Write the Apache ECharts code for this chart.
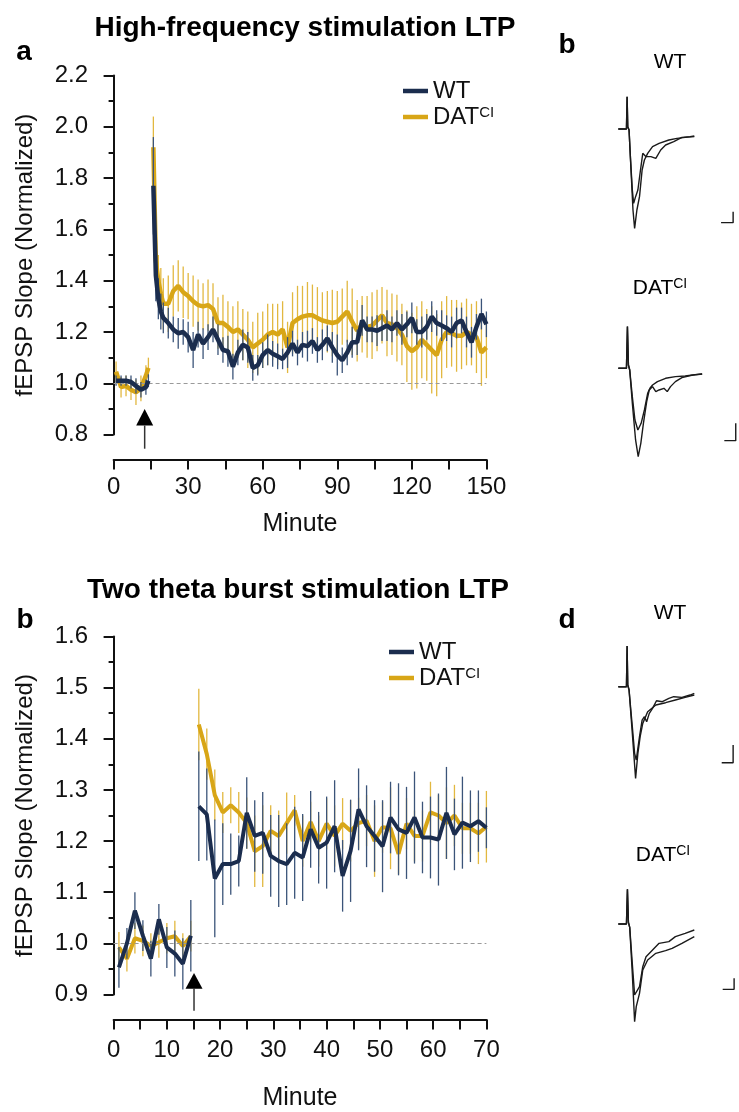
<!DOCTYPE html>
<html>
<head>
<meta charset="utf-8">
<script src="https://cdn.jsdelivr.net/npm/echarts@6/dist/echarts.min.js"></script>
<style>
  html, body { margin: 0; padding: 0; background: #fff; }
  #chart { width: 739px; height: 1112px; }
</style>
</head>
<body>
<div id="chart"></div>
<script>
// ---- data: high-frequency stimulation (top panel) ----
const hfsMinutes = [1,3,5,7,9,11,13,14,15,16,17,18,19,20,22,24,26,28,30,32,34,36,38,40,42,44,46,48,50,52,54,56,58,60,62,64,66,68,70,72,74,76,78,80,82,84,86,88,90,92,94,96,98,100,102,104,106,108,110,112,114,116,118,120,122,124,126,128,130,132,134,136,138,140,142,144,146,148,150];
const hfsWT = [1.01,1.01,1.01,1.005,0.99,0.975,0.985,1.01, null,
  1.77,1.42,1.33,1.28,1.255,
  1.235,1.21,1.195,1.20,1.18, 1.13,1.19,1.155,1.18,1.21,
  1.17,1.13,1.125,1.065,1.12, 1.15,1.14,1.06,1.07,1.11,
  1.13,1.115,1.105,1.095,1.12, 1.155,1.12,1.15,1.145,1.165,
  1.13,1.15,1.175,1.14,1.11, 1.09,1.12,1.16,1.16,1.245,
  1.21,1.21,1.205,1.215,1.225, 1.21,1.235,1.21,1.23,1.255,
  1.2,1.2,1.22,1.26,1.235, 1.225,1.215,1.2,1.235,1.245,
  1.2,1.16,1.22,1.27,1.23];
const hfsWTErr = [0.02,0.02,0.02,0.025,0.03,0.03,0.03,0.025, null,
  0.19,0.1,0.08,0.07,0.06,
  0.06,0.05,0.06,0.05,0.06, 0.07,0.05,0.06,0.05,0.05,
  0.06,0.05,0.06,0.05,0.05, 0.06,0.06,0.05,0.04,0.05,
  0.06,0.05,0.05,0.04,0.06, 0.05,0.05,0.05,0.06,0.05,
  0.05,0.06,0.05,0.06,0.08, 0.05,0.05,0.06,0.05,0.06,
  0.05,0.05,0.06,0.05,0.06, 0.05,0.05,0.06,0.05,0.06,
  0.05,0.06,0.05,0.06,0.05, 0.06,0.05,0.06,0.06,0.05,
  0.06,0.06,0.05,0.06,0.05];
const hfsDAT = [1.045,0.985,0.99,0.975,0.965,0.98,1.03,1.06, null,
  1.92,1.48,1.40,1.35,1.31,
  1.31,1.36,1.38,1.355,1.34, 1.32,1.305,1.30,1.305,1.29,
  1.235,1.235,1.22,1.20,1.21, 1.19,1.17,1.14,1.155,1.17,
  1.19,1.2,1.19,1.21,1.14, 1.235,1.25,1.26,1.265,1.265,
  1.255,1.245,1.24,1.235,1.24, 1.26,1.28,1.24,1.205,1.23,
  1.22,1.225,1.245,1.265,1.235, 1.23,1.215,1.19,1.145,1.125,
  1.14,1.17,1.15,1.13,1.11, 1.17,1.2,1.195,1.185,1.185,
  1.2,1.19,1.18,1.12,1.14];
const hfsDATErr = [0.04,0.04,0.04,0.04,0.05,0.05,0.04,0.04, null,
  0.12,0.12,0.1,0.1,0.1,
  0.11,0.1,0.1,0.1,0.09, 0.1,0.1,0.09,0.1,0.1,
  0.1,0.11,0.1,0.1,0.11, 0.1,0.11,0.1,0.12,0.11,
  0.12,0.11,0.12,0.11,0.1, 0.12,0.13,0.12,0.13,0.12,
  0.12,0.11,0.12,0.13,0.12, 0.11,0.12,0.13,0.12,0.11,
  0.12,0.13,0.12,0.11,0.13, 0.12,0.13,0.12,0.14,0.15,
  0.16,0.15,0.14,0.17,0.16, 0.15,0.14,0.13,0.14,0.13,
  0.13,0.12,0.14,0.13,0.12];

// ---- data: two theta burst stimulation (bottom panel) ----
const tbsMinutes = [1,2.5,4,5.5,7,8.5,10,11.5,13,14.5,15.25,16,17.5,19,20.5,22,23.5,25,26.5,28,29.5,31,32.5,34,35.5,37,38.5,40,41.5,43,44.5,46,47.5,49,50.5,52,53.5,55,56.5,58,59.5,61,62.5,64,65.5,67,68.5,70];
const tbsWT = [0.953,1.0,1.064,1.015,0.97,1.047,0.992,0.98,0.96,1.015, null,
  1.268,1.252,1.127,1.155,1.155,1.161,1.255,1.21,1.216,1.171,
  1.161,1.155,1.177,1.168,1.223,1.187,1.197,1.229,1.132,1.181,
  1.262,1.229,1.21,1.19,1.246,1.223,1.216,1.246,1.207,1.207,
  1.203,1.255,1.213,1.236,1.229,1.239,1.226];
const tbsWTErr = [0.04,0.03,0.036,0.03,0.035,0.03,0.04,0.045,0.05,0.07, null,
  0.107,0.09,0.115,0.08,0.06,0.05,0.07,0.07,0.08,0.08,
  0.09,0.08,0.09,0.085,0.075,0.07,0.09,0.09,0.07,0.1,
  0.08,0.08,0.07,0.09,0.07,0.09,0.09,0.09,0.07,0.08,
  0.09,0.09,0.07,0.09,0.07,0.06,0.04];
const tbsDAT = [0.992,0.97,1.01,1.005,0.995,1.002,1.01,1.014,0.995,1.014, null,
  1.428,1.37,1.29,1.256,1.27,1.256,1.235,1.18,1.19,1.22,
  1.21,1.235,1.26,1.20,1.237,1.20,1.234,1.21,1.234,1.22,
  1.235,1.24,1.20,1.227,1.225,1.175,1.234,1.21,1.21,1.256,
  1.25,1.235,1.25,1.225,1.225,1.215,1.228];
const tbsDATErr = [0.03,0.025,0.03,0.03,0.025,0.03,0.03,0.03,0.025,0.03, null,
  0.07,0.05,0.05,0.04,0.035,0.04,0.05,0.07,0.08,0.05,
  0.05,0.06,0.03,0.05,0.04,0.05,0.05,0.06,0.05,0.06,
  0.05,0.05,0.07,0.05,0.08,0.04,0.05,0.05,0.05,0.06,
  0.04,0.07,0.06,0.05,0.05,0.06,0.07];

// stimulation arrows (minute, y of tip / head base / tail)
const arrowHfs = { minute: 12.5, tip: 0.9, base: 0.835, tail: 0.745 };
const arrowTbs = { minute: 15.1, tip: 0.942, base: 0.911, tail: 0.868 };

// ---- example fEPSP traces: [ms, mV] ----
const hfsTraceWT_A = [[0,0],[2.5,0],[2.7,0.97],[2.9,0.07],[3.3,-0.03],[3.7,-0.83],[4.3,-1.83],[4.7,-2.23],[5.3,-2.03],[6.0,-1.83],[6.8,-1.23],[7.5,-0.73],[8.0,-0.78],[8.5,-0.83],[10.0,-0.83],[11.5,-0.88],[13.0,-0.63],[14.5,-0.48],[17.0,-0.38],[19.5,-0.25],[22.0,-0.23],[23.3,-0.21]];
const hfsTraceWT_B = [[0,0],[2.5,0],[2.7,0.97],[2.9,0.07],[3.3,-0.03],[3.9,-1.23],[4.5,-2.43],[5.0,-2.98],[5.7,-2.43],[6.5,-2.03],[7.3,-1.23],[8.0,-0.93],[9.0,-0.73],[10.5,-0.53],[12.5,-0.43],[15.5,-0.33],[18.0,-0.28],[20.5,-0.25],[23.3,-0.23]];
const hfsTraceDAT_A = [[0,0],[2.5,0],[2.8,1.25],[3.1,0.1],[3.5,-0.05],[4.3,-0.85],[5.1,-1.55],[6.0,-1.85],[7.0,-1.65],[8.0,-1.25],[9.0,-0.75],[9.7,-0.6],[10.5,-0.5],[12.0,-0.4],[14.5,-0.3],[17.5,-0.25],[20.5,-0.23],[23.5,-0.19],[25.7,-0.17]];
const hfsTraceDAT_B = [[0,0],[2.5,0],[2.8,1.25],[3.1,0.1],[3.5,-0.05],[4.3,-1.05],[5.3,-2.15],[6.1,-2.65],[6.9,-2.25],[7.7,-1.65],[8.7,-1.0],[9.5,-0.65],[10.5,-0.55],[11.5,-0.7],[12.5,-0.65],[14.0,-0.6],[15.0,-0.7],[16.0,-0.55],[17.5,-0.4],[19.5,-0.28],[22.5,-0.21],[25.7,-0.17]];
const tbsTraceWT_A = [[0,0],[2.5,0],[2.7,1.22],[2.9,0.05],[3.3,-0.1],[4.3,-1.2],[5.0,-2.0],[5.5,-2.2],[6.5,-1.5],[7.3,-1.0],[8.0,-0.9],[8.7,-1.05],[9.5,-0.8],[10.5,-0.65],[11.7,-0.42],[13.5,-0.45],[15.5,-0.35],[17.0,-0.3],[19.5,-0.32],[22.0,-0.25],[23.3,-0.2]];
const tbsTraceWT_B = [[0,0],[2.5,0],[2.7,1.22],[2.9,0.05],[3.3,-0.1],[4.3,-1.4],[5.3,-2.75],[6.0,-2.0],[6.7,-1.5],[7.5,-1.1],[9.0,-0.75],[11.5,-0.55],[14.5,-0.48],[17.5,-0.4],[20.5,-0.32],[23.3,-0.25]];
const tbsTraceDAT_A = [[0,0],[2.5,0],[2.8,1.04],[3.1,0.05],[3.5,-0.1],[4.3,-1.2],[5.0,-2.13],[5.3,-2.08],[6.5,-1.88],[7.5,-1.28],[8.5,-0.98],[10.5,-0.78],[12.5,-0.58],[15.5,-0.53],[17.5,-0.38],[20.5,-0.28],[23.3,-0.18]];
const tbsTraceDAT_B = [[0,0],[2.5,0],[2.8,1.04],[3.1,0.05],[3.5,-0.1],[4.3,-1.5],[5.0,-2.93],[5.5,-2.48],[6.5,-2.08],[7.5,-1.38],[9.0,-1.08],[11.5,-0.88],[14.5,-0.8],[16.5,-0.73],[19.5,-0.58],[23.3,-0.38]];
// scale bars
const sbHfsWT = [[31.5,-2.81],[35.2,-2.81],[35.2,-2.48]];
const sbHfsDAT = [[32.5,-2.17],[36.0,-2.17],[36.0,-1.65]];
const sbTbsWT = [[31.7,-2.28],[35.2,-2.28],[35.2,-1.75]];
const sbTbsDAT = [[32.0,-1.96],[35.5,-1.96],[35.5,-1.63]];

const FONT = "'Liberation Sans', Arial, Helvetica, sans-serif";
const NAVY = '#1b2d4e', GOLD = '#d8a617';
const NAVY_BAR = '#3b5479', GOLD_BAR = '#e2b840';
const INK = '#111';

const chart = echarts.init(document.getElementById('chart'));

function pairs(xs, ys) {
  return xs.map((x, i) => [x, ys[i] == null ? '-' : ys[i]]);
}
function bars(xs, ys, es) {
  const out = [];
  xs.forEach((x, i) => {
    if (ys[i] == null) return;
    out.push([x, ys[i] - es[i], ys[i] + es[i]]);
  });
  return out;
}
function errItem(params, api) {
  const lo = api.coord([api.value(0), api.value(1)]);
  const hi = api.coord([api.value(0), api.value(2)]);
  return {
    type: 'line',
    shape: { x1: lo[0], y1: lo[1], x2: hi[0], y2: hi[1] },
    style: { stroke: api.visual('color'), lineWidth: 1.3 }
  };
}

function dataSeries(g, xs, wt, wtErr, dat, datErr, lw) {
  return [
    { type: 'custom', name: 'DAT err', xAxisIndex: g, yAxisIndex: g, renderItem: errItem,
      data: bars(xs, dat, datErr), itemStyle: { color: GOLD_BAR }, encode: { x: 0, y: [1, 2] }, z: 2 },
    { type: 'line', name: 'DAT', xAxisIndex: g, yAxisIndex: g, data: pairs(xs, dat),
      color: GOLD, showSymbol: false, lineStyle: { width: lw, color: GOLD }, z: 3,
      markLine: { silent: true, symbol: 'none', label: { show: false },
        lineStyle: { type: [4, 3], color: '#9a9a9a', width: 1 }, data: [{ yAxis: 1 }] } },
    { type: 'custom', name: 'WT err', xAxisIndex: g, yAxisIndex: g, renderItem: errItem,
      data: bars(xs, wt, wtErr), itemStyle: { color: NAVY_BAR }, encode: { x: 0, y: [1, 2] }, z: 4 },
    { type: 'line', name: 'WT', xAxisIndex: g, yAxisIndex: g, data: pairs(xs, wt),
      color: NAVY, showSymbol: false, lineStyle: { width: lw, color: NAVY }, z: 5 }
  ];
}

function xAxisOf(g, max, interval, labelEvery, nameGap, labelMargin) {
  return {
    gridIndex: g, type: 'value', min: 0, max: max, interval: interval, offset: 25,
    axisLine: { lineStyle: { color: INK, width: 2 } },
    axisTick: { length: 10, lineStyle: { color: INK, width: 2 } },
    axisLabel: { formatter: v => (v % labelEvery === 0 ? String(v) : ''), fontSize: 24,
      fontFamily: FONT, color: INK, margin: labelMargin },
    splitLine: { show: false },
    name: 'Minute', nameLocation: 'middle', nameGap: nameGap,
    nameTextStyle: { fontSize: 25, fontFamily: FONT, color: INK, verticalAlign: 'middle' }
  };
}
function yAxisOf(g, min, max, interval) {
  return {
    gridIndex: g, type: 'value', min: min, max: max, interval: interval, offset: 11.6,
    axisLine: { show: true, lineStyle: { color: INK, width: 2 } },
    axisTick: { show: true, length: 10, lineStyle: { color: INK, width: 2 } },
    minorTick: { show: true, splitNumber: 2, length: 5, lineStyle: { color: INK, width: 2 } },
    axisLabel: { formatter: v => v.toFixed(1), fontSize: 24, fontFamily: FONT, color: INK, margin: 14 },
    splitLine: { show: false }, minorSplitLine: { show: false },
    name: 'fEPSP Slope (Normalized)', nameLocation: 'middle', nameGap: 77, nameRotate: 90,
    nameTextStyle: { fontSize: 24, fontFamily: FONT, color: INK, verticalAlign: 'middle' }
  };
}

// trace panel grids share one scale: 3.333 px per ms, 33.33 px per mV
const tracePanels = [
  { baseY: 129, traces: [hfsTraceWT_A, hfsTraceWT_B], bar: sbHfsWT },
  { baseY: 368.3, traces: [hfsTraceDAT_A, hfsTraceDAT_B], bar: sbHfsDAT },
  { baseY: 686.7, traces: [tbsTraceWT_A, tbsTraceWT_B], bar: sbTbsWT },
  { baseY: 924, traces: [tbsTraceDAT_A, tbsTraceDAT_B], bar: sbTbsDAT }
];

const grids = [
  { left: 113.6, right: 252.6, top: 75.5, bottom: 677.4 },
  { left: 113.6, right: 252.6, top: 636.5, bottom: 116.4 }
];
const xAxes = [
  xAxisOf(0, 150, 15, 30, 65, 16),
  xAxisOf(1, 70, 5, 10, 79, 19)
];
const yAxes = [
  yAxisOf(0, 0.8, 2.2, 0.2),
  yAxisOf(1, 0.9, 1.6, 0.1)
];
let series = [
  ...dataSeries(0, hfsMinutes, hfsWT, hfsWTErr, hfsDAT, hfsDATErr, 4.5),
  ...dataSeries(1, tbsMinutes, tbsWT, tbsWTErr, tbsDAT, tbsDATErr, 4)
];

tracePanels.forEach((p, i) => {
  const g = i + 2;
  grids.push({ left: 618.3, top: p.baseY - 1.4 * 33.33, width: 37 * 3.333, height: 4.6 * 33.33 });
  xAxes.push({ gridIndex: g, type: 'value', min: 0, max: 37, show: false });
  yAxes.push({ gridIndex: g, type: 'value', min: -3.2, max: 1.4, show: false });
  p.traces.concat([p.bar]).forEach(tr => {
    series.push({ type: 'line', xAxisIndex: g, yAxisIndex: g, data: tr, showSymbol: false,
      silent: true, clip: false, lineStyle: { color: '#1a1a1a', width: 1.4 } });
  });
});

const legendBase = {
  orient: 'vertical', data: ['WT', 'DAT'], icon: 'rect', itemWidth: 25, itemHeight: 4.5, itemGap: 2,
  selectedMode: false,
  formatter: n => (n === 'DAT' ? '{n|DAT}{s|CI}' : '{n|WT}'),
  textStyle: { fontFamily: FONT, color: INK, fontSize: 24,
    rich: { n: { fontSize: 24, fontFamily: FONT, color: INK },
            s: { fontSize: 15, fontFamily: FONT, color: INK, padding: [0, 0, 9, 0] } } }
};

chart.setOption({
  animation: false,
  grid: grids,
  xAxis: xAxes,
  yAxis: yAxes,
  legend: [
    Object.assign({ left: 398, top: 74 }, legendBase),
    Object.assign({ left: 384, top: 635 }, legendBase)
  ],
  series: series
});

function text(x, y, str, size, bold) {
  return { type: 'text', x: x, y: y, silent: true,
    style: { text: str, fontSize: size, fontWeight: bold ? 'bold' : 'normal', fontFamily: FONT,
      fill: '#000', align: 'center', verticalAlign: 'middle' } };
}
function datLabel(x, y) {
  return { type: 'text', x: x, y: y, silent: true,
    style: { text: '{n|DAT}{s|CI}', align: 'center', verticalAlign: 'middle', fill: '#000',
      rich: { n: { fontSize: 21, fontFamily: FONT, fill: '#000' },
              s: { fontSize: 14, fontFamily: FONT, fill: '#000', padding: [0, 0, 8, 0] } } } };
}
function arrow(g, a) {
  const tip = chart.convertToPixel({ gridIndex: g }, [a.minute, a.tip]);
  const base = chart.convertToPixel({ gridIndex: g }, [a.minute, a.base]);
  const tail = chart.convertToPixel({ gridIndex: g }, [a.minute, a.tail]);
  return [
    { type: 'line', silent: true, shape: { x1: tip[0], y1: base[1], x2: tip[0], y2: tail[1] },
      style: { stroke: '#333', lineWidth: 1.5 } },
    { type: 'polygon', silent: true,
      shape: { points: [[tip[0], tip[1]], [tip[0] - 8.5, base[1]], [tip[0] + 8.5, base[1]]] },
      style: { fill: '#000' } }
  ];
}

chart.setOption({
  graphic: [
    text(305, 28, 'High-frequency stimulation LTP', 28, true),
    text(298, 590, 'Two theta burst stimulation LTP', 28, true),
    text(24, 52, 'a', 28, true),
    text(25, 620, 'b', 28, true),
    text(567, 45, 'b', 28, true),
    text(567, 620, 'd', 28, true),
    text(670, 62, 'WT', 21, false),
    datLabel(660, 288),
    text(670, 613, 'WT', 21, false),
    datLabel(663, 855),
    ...arrow(0, arrowHfs),
    ...arrow(1, arrowTbs)
  ]
});

window.addEventListener('resize', () => chart.resize());
</script>
</body>
</html>
